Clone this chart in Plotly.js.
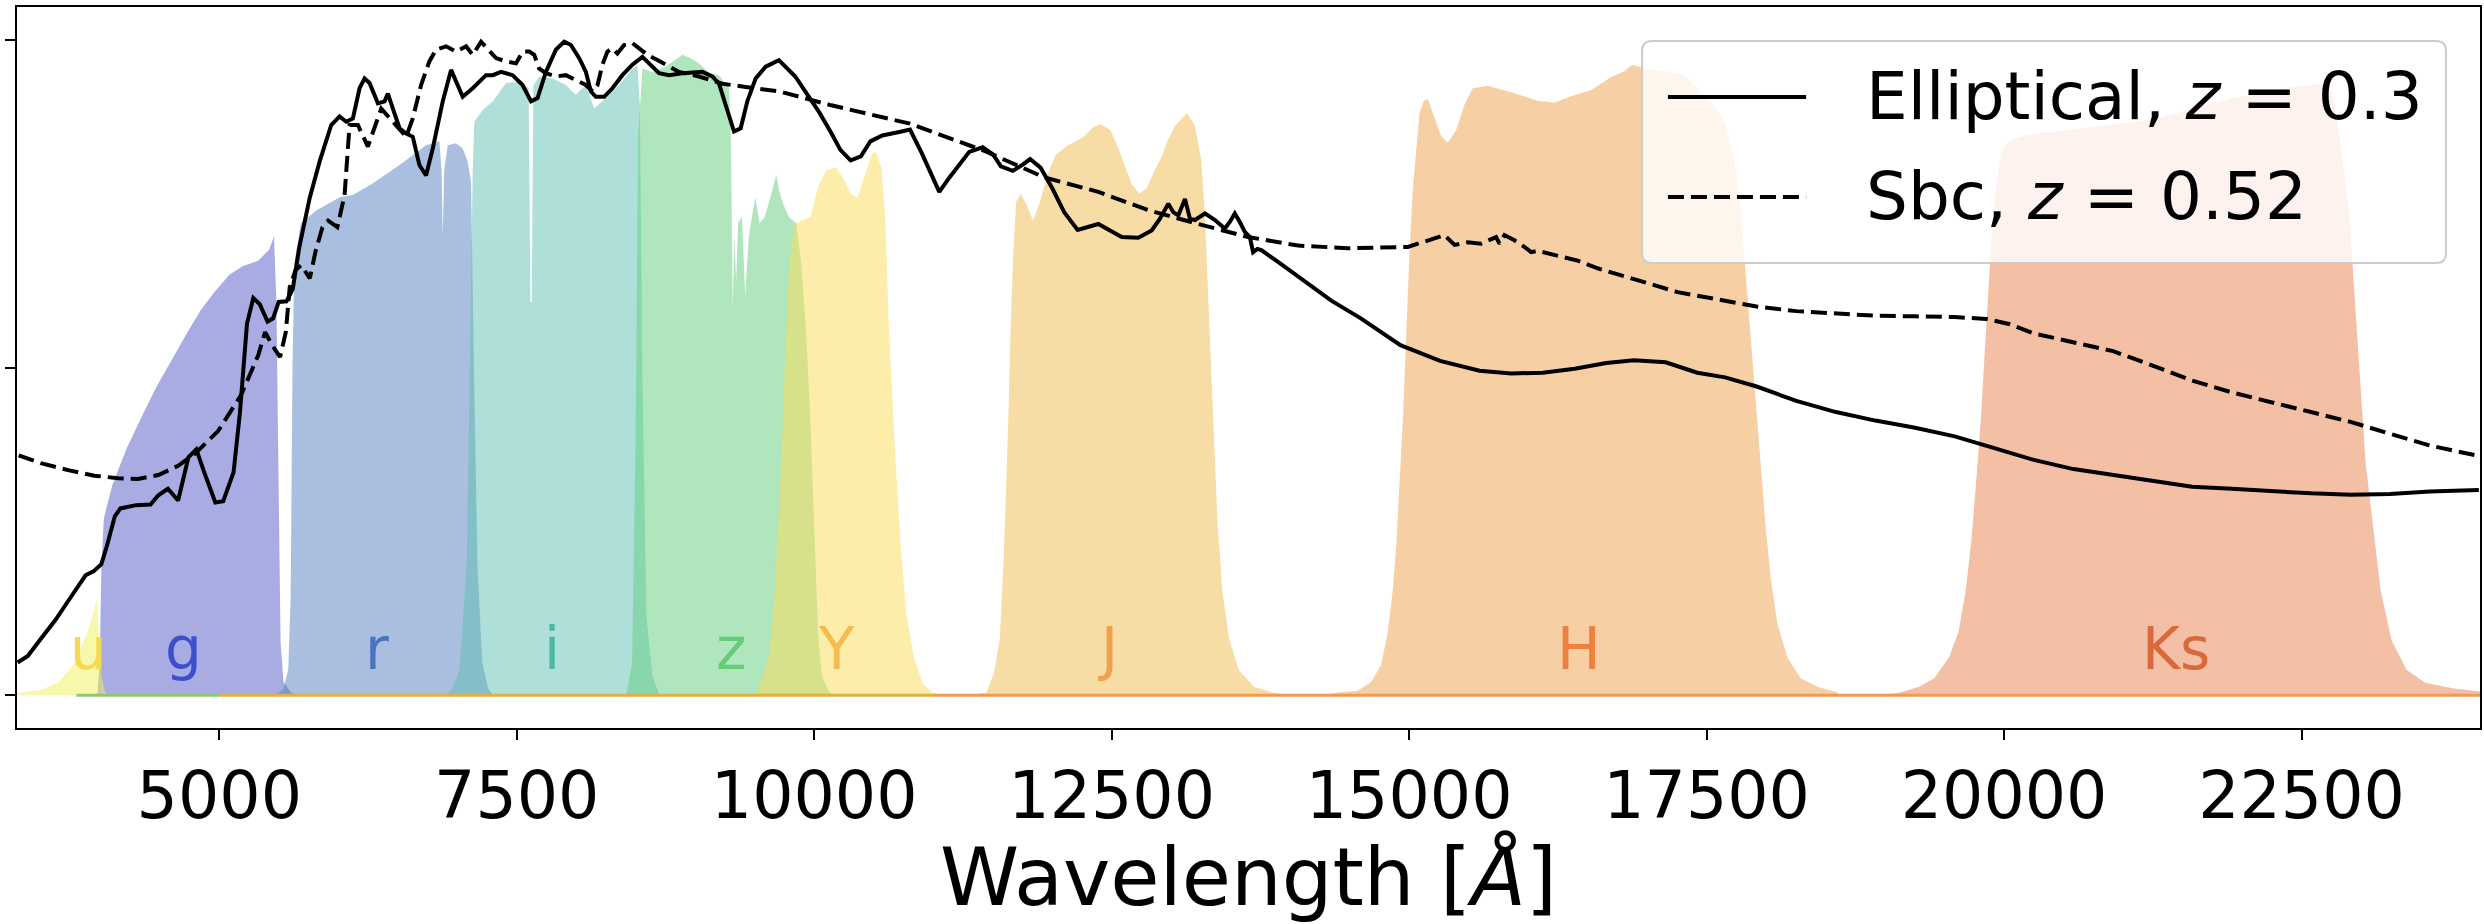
<!DOCTYPE html>
<html>
<head>
<meta charset="utf-8">
<script src="https://cdn.plot.ly/plotly-3.0.1.min.js"></script>
<style>
  html, body { margin: 0; padding: 0; background: #fff; }
  #plot { width: 2484px; height: 924px; }
</style>
</head>
<body>
<div id="plot"></div>
<script>
// Filter transmission curves (wavelength in Angstrom, normalised transmission)
const uWave = [3300, 3500, 3650, 3770, 3890, 3940, 3970, 3990, 4010, 4040, 4080];
const uTrans = [0.003, 0.008, 0.02, 0.045, 0.095, 0.125, 0.147, 0.09, 0.03, 0.005, 0];

const gWave = [3975, 3995, 4010, 4030, 4100, 4220, 4364, 4470, 4605, 4720, 4846, 4960, 5087, 5200, 5328, 5420, 5460, 5480, 5500, 5515, 5540, 5600, 5650];
const gTrans = [0, 0.05, 0.2, 0.27, 0.32, 0.376, 0.431, 0.47, 0.513, 0.55, 0.588, 0.615, 0.642, 0.655, 0.663, 0.68, 0.70, 0.6, 0.3, 0.08, 0.02, 0.005, 0];

const rWave = [5480, 5540, 5580, 5600, 5615, 5632, 5685, 5818, 6017, 6123, 6291, 6515, 6738, 6850, 6868, 6878, 6890, 6920, 6990, 7046, 7088, 7116, 7140, 7170, 7210, 7260, 7300];
const rTrans = [0, 0.01, 0.04, 0.15, 0.5, 0.66, 0.72, 0.74, 0.76, 0.763, 0.781, 0.809, 0.839, 0.845, 0.8, 0.7, 0.8, 0.839, 0.842, 0.834, 0.814, 0.783, 0.5, 0.2, 0.05, 0.01, 0];

const iWave = [6900, 6960, 7020, 7080, 7110, 7130, 7144, 7214, 7298, 7410, 7522, 7600, 7615, 7626, 7640, 7689, 7801, 7913, 7997, 8081, 8151, 8249, 8360, 8472, 8514, 8535, 8555, 8590, 8640, 8700];
const iTrans = [0, 0.01, 0.04, 0.2, 0.55, 0.8, 0.875, 0.893, 0.906, 0.934, 0.936, 0.926, 0.6, 0.6, 0.93, 0.944, 0.941, 0.931, 0.916, 0.931, 0.895, 0.911, 0.931, 0.956, 0.962, 0.9, 0.5, 0.12, 0.03, 0];

const zWave = [8420, 8470, 8500, 8520, 8556, 8640, 8752, 8892, 8962, 9032, 9116, 9200, 9284, 9300, 9315, 9330, 9344, 9360, 9393, 9420, 9450, 9505, 9540, 9585, 9633, 9681, 9705, 9729, 9760, 9793, 9850, 9890, 9932, 9964, 9987, 10009, 10035, 10066, 10131, 10200];
const zTrans = [0, 0.05, 0.4, 0.85, 0.956, 0.951, 0.959, 0.977, 0.972, 0.964, 0.949, 0.946, 0.926, 0.85, 0.59, 0.7, 0.63, 0.72, 0.73, 0.61, 0.7, 0.76, 0.72, 0.73, 0.76, 0.794, 0.77, 0.755, 0.74, 0.728, 0.72, 0.66, 0.554, 0.437, 0.32, 0.203, 0.086, 0.028, 0.004, 0];

const YWave = [9400, 9521, 9618, 9665, 9697, 9729, 9752, 9778, 9803, 9836, 9890, 9970, 10035, 10099, 10179, 10243, 10307, 10362, 10420, 10484, 10516, 10564, 10597, 10629, 10677, 10725, 10773, 10837, 10917, 10998, 11100];
const YTrans = [0, 0.004, 0.057, 0.145, 0.262, 0.379, 0.496, 0.613, 0.683, 0.718, 0.724, 0.73, 0.777, 0.8, 0.806, 0.789, 0.765, 0.759, 0.789, 0.826, 0.829, 0.806, 0.73, 0.554, 0.379, 0.233, 0.127, 0.057, 0.016, 0.004, 0];

const JWave = [11300, 11448, 11511, 11560, 11592, 11614, 11634, 11650, 11672, 11697, 11736, 11785, 11839, 11897, 11961, 12025, 12122, 12250, 12346, 12411, 12491, 12555, 12604, 12668, 12731, 12796, 12861, 12924, 12973, 13037, 13133, 13198, 13252, 13284, 13310, 13336, 13362, 13390, 13432, 13487, 13567, 13696, 13856, 14000];
const JTrans = [0, 0.004, 0.034, 0.086, 0.203, 0.32, 0.437, 0.554, 0.671, 0.753, 0.765, 0.748, 0.724, 0.753, 0.794, 0.823, 0.838, 0.85, 0.867, 0.871, 0.862, 0.835, 0.812, 0.78, 0.765, 0.774, 0.8, 0.823, 0.847, 0.87, 0.888, 0.87, 0.818, 0.73, 0.613, 0.496, 0.379, 0.262, 0.156, 0.086, 0.039, 0.013, 0.004, 0];

const HWave = [14300, 14401, 14569, 14681, 14765, 14821, 14863, 14891, 14919, 14947, 14975, 15003, 15031, 15059, 15087, 15124, 15157, 15213, 15269, 15325, 15395, 15465, 15535, 15661, 15857, 16080, 16220, 16360, 16528, 16695, 16807, 16877, 17003, 17171, 17311, 17423, 17563, 17661, 17731, 17786, 17828, 17870, 17912, 17954, 17996, 18038, 18094, 18178, 18290, 18430, 18600];
const HTrans = [0, 0.004, 0.007, 0.02, 0.046, 0.097, 0.161, 0.226, 0.322, 0.418, 0.547, 0.676, 0.772, 0.837, 0.888, 0.907, 0.91, 0.881, 0.853, 0.843, 0.862, 0.901, 0.926, 0.93, 0.92, 0.907, 0.904, 0.914, 0.923, 0.943, 0.952, 0.962, 0.955, 0.952, 0.946, 0.926, 0.901, 0.869, 0.817, 0.74, 0.644, 0.547, 0.451, 0.354, 0.258, 0.181, 0.11, 0.058, 0.026, 0.013, 0.004];

const KsWave = [18900, 19101, 19288, 19413, 19538, 19617, 19679, 19726, 19764, 19804, 19835, 19866, 19898, 19929, 19976, 20038, 20132, 20351, 20663, 20976, 21288, 21600, 21900, 22200, 22500, 22692, 22760, 22804, 22850, 22898, 22944, 22992, 23039, 23101, 23164, 23257, 23382, 23539, 23789, 24000];
const KsTrans = [0, 0.003, 0.013, 0.026, 0.058, 0.097, 0.161, 0.238, 0.322, 0.418, 0.515, 0.611, 0.708, 0.772, 0.83, 0.846, 0.852, 0.859, 0.865, 0.872, 0.88, 0.895, 0.91, 0.922, 0.93, 0.933, 0.92, 0.869, 0.81, 0.74, 0.612, 0.483, 0.354, 0.258, 0.161, 0.084, 0.039, 0.019, 0.01, 0.006];

// zero-level edges of the filter curves
const baseGreenWave = [3800, 5000];
const baseGoldWave = [5000, 11000];
const baseOrangeWave = [11000, 24000];
const baseZero = [0, 0];

// Template spectra, redshifted and normalised
const ellWave = [3305, 3391, 3491, 3624, 3757, 3876, 3943, 4009, 4056, 4122,
  4169, 4235, 4302, 4422, 4488, 4568, 4654, 4741, 4807, 4874,
  4967, 5033, 5120, 5173, 5233, 5286, 5339, 5406, 5452, 5499,
  5565, 5618, 5672, 5759, 5843, 5941, 6011, 6067, 6123, 6179,
  6221, 6263, 6333, 6389, 6417, 6459, 6515, 6571, 6626, 6682,
  6738, 6794, 6878, 6948, 7046, 7130, 7242, 7298, 7368, 7465,
  7549, 7620, 7675, 7745, 7829, 7899, 7955, 8025, 8081, 8123,
  8165, 8235, 8304, 8388, 8472, 8556, 8612, 8696, 8780, 8892,
  9060, 9144, 9200, 9256, 9326, 9382, 9438, 9508, 9592, 9703,
  9841, 9940, 10040, 10140, 10220, 10306, 10392, 10472, 10572, 10705,
  10805, 10904, 10971, 11051, 11137, 11217, 11303, 11416, 11503, 11569,
  11669, 11749, 11815, 11902, 12002, 12101, 12214, 12388, 12584, 12724,
  12836, 12906, 12976, 13018, 13060, 13116, 13158, 13200, 13284, 13368,
  13451, 13493, 13535, 13577, 13619, 13661, 13689, 13725, 13758, 13898,
  14346, 14594, 14927, 15260, 15592, 15858, 16124, 16391, 16657, 16890,
  17156, 17422, 17655, 17921, 18254, 18587, 18919, 19252, 19585, 19918,
  20250, 20583, 20916, 21248, 21581, 21914, 22247, 22580, 22912, 23244,
  23577, 23990];
const ellFlux = [0.05, 0.06, 0.084, 0.115, 0.151, 0.183, 0.189, 0.2, 0.228, 0.273,
  0.285, 0.287, 0.29, 0.291, 0.305, 0.315, 0.297, 0.363, 0.375, 0.34,
  0.294, 0.296, 0.34, 0.43, 0.567, 0.606, 0.597, 0.57, 0.575, 0.6,
  0.601, 0.62, 0.683, 0.758, 0.814, 0.87, 0.883, 0.875, 0.88, 0.926,
  0.941, 0.934, 0.903, 0.906, 0.918, 0.895, 0.865, 0.857, 0.852, 0.809,
  0.793, 0.834, 0.906, 0.954, 0.913, 0.926, 0.946, 0.946, 0.951, 0.946,
  0.931, 0.906, 0.911, 0.951, 0.985, 0.997, 0.992, 0.972, 0.951, 0.921,
  0.913, 0.913, 0.926, 0.946, 0.962, 0.974, 0.964, 0.949, 0.946, 0.949,
  0.951, 0.944, 0.933, 0.9, 0.86, 0.865, 0.906, 0.941, 0.959, 0.969,
  0.944, 0.917, 0.89, 0.859, 0.832, 0.816, 0.822, 0.845, 0.854, 0.859,
  0.863, 0.827, 0.8, 0.768, 0.79, 0.81, 0.829, 0.836, 0.825, 0.807,
  0.8, 0.809, 0.818, 0.805, 0.773, 0.737, 0.71, 0.719, 0.699, 0.698,
  0.709, 0.727, 0.75, 0.737, 0.732, 0.757, 0.727, 0.725, 0.735, 0.725,
  0.712, 0.722, 0.735, 0.722, 0.707, 0.699, 0.676, 0.681, 0.679, 0.661,
  0.602, 0.575, 0.534, 0.51, 0.495, 0.491, 0.492, 0.498, 0.507, 0.511,
  0.508, 0.492, 0.485, 0.471, 0.449, 0.432, 0.419, 0.408, 0.395, 0.377,
  0.359, 0.345, 0.336, 0.327, 0.318, 0.315, 0.311, 0.308, 0.306, 0.307,
  0.311, 0.313];

const sbcWave = [3314, 3500, 3738, 3950, 4150, 4316, 4488, 4557, 4654, 4798,
  4990, 5183, 5328, 5385, 5448, 5511, 5559, 5592, 5641, 5689,
  5761, 5809, 5867, 5915, 5992, 6053, 6095, 6165, 6249, 6361,
  6459, 6571, 6626, 6696, 6766, 6822, 6906, 6990, 7074, 7130,
  7200, 7270, 7326, 7410, 7494, 7550, 7605, 7647, 7689, 7745,
  7829, 7913, 7997, 8081, 8137, 8179, 8220, 8262, 8304, 8346,
  8402, 8472, 8542, 8598, 8682, 8780, 8864, 9032, 9227, 9424,
  9710, 10144, 10805, 11436, 11935, 12388, 12808, 13227, 13647, 14067,
  14486, 14989, 15185, 15213, 15297, 15381, 15493, 15605, 15731, 15759,
  15801, 15885, 15969, 16025, 16081, 16164, 16416, 16590, 16923, 17256,
  17588, 17921, 18254, 18587, 18919, 19252, 19585, 19851, 20050, 20250,
  20583, 20916, 21248, 21581, 21914, 22247, 22580, 22912, 23244, 23577,
  23990];
const sbcFlux = [0.366, 0.354, 0.343, 0.335, 0.331, 0.33, 0.336, 0.342, 0.35, 0.369,
  0.403, 0.458, 0.519, 0.554, 0.533, 0.516, 0.554, 0.622, 0.649, 0.656,
  0.636, 0.677, 0.714, 0.724, 0.714, 0.763, 0.87, 0.87, 0.837, 0.895,
  0.875, 0.852, 0.88, 0.931, 0.967, 0.985, 0.99, 0.982, 0.99, 0.977,
  0.997, 0.982, 0.972, 0.967, 0.964, 0.982, 0.982, 0.977, 0.956, 0.949,
  0.944, 0.946, 0.939, 0.931, 0.921, 0.931, 0.962, 0.982, 0.987, 0.979,
  0.992, 0.995, 0.985, 0.977, 0.969, 0.959, 0.951, 0.944, 0.933, 0.928,
  0.921, 0.9, 0.872, 0.83, 0.79, 0.768, 0.74, 0.719, 0.699, 0.686,
  0.682, 0.684, 0.694, 0.697, 0.702, 0.687, 0.691, 0.689, 0.699, 0.689,
  0.702, 0.694, 0.684, 0.676, 0.678, 0.674, 0.663, 0.651, 0.633, 0.615,
  0.604, 0.593, 0.586, 0.582, 0.579, 0.578, 0.577, 0.574, 0.566, 0.552,
  0.539, 0.525, 0.503, 0.48, 0.462, 0.447, 0.432, 0.417, 0.399, 0.381,
  0.365];

// band names and where their labels sit along the wavelength axis
const bandNames = ['u', 'g', 'r', 'i', 'z', 'Y', 'J', 'H', 'Ks'];
const bandLabelWave = [3897, 4702, 6322, 7799, 9298, 10190, 12472, 16424, 21441];
const bandLabelColor = ['#f5d94e', '#3f4fcc', '#4a74bf', '#4db6a4', '#66cc77', '#f7bb4d', '#f3a04a', '#ef7f3e', '#d9693a'];

const xTickVals = [5000, 7500, 10000, 12500, 15000, 17500, 20000, 22500];
const xTickText = ['5000', '7500', '10000', '12500', '15000', '17500', '20000', '22500'];
const yTickVals = [0, 0.5, 1];

const legendNames = ['Elliptical, <i>z</i> = 0.3', 'Sbc, <i>z</i> = 0.52'];

const FONT = 'DejaVu Sans, Liberation Sans, sans-serif';

const filter_trace = function (wave, trans, fill) {
    return {
        x: wave, y: trans,
        type: 'scatter', mode: 'lines',
        fill: 'tozeroy', fillcolor: fill,
        line: { width: 0, color: fill },
        hoverinfo: 'skip'
    };
};

const base_trace = function (wave, color) {
    return {
        x: wave, y: baseZero,
        type: 'scatter', mode: 'lines',
        line: { width: 3, color: color },
        hoverinfo: 'skip'
    };
};

// u is painted last, it sits on top of g in the reference
const traces = [
    filter_trace(gWave, gTrans, 'rgba(81,89,197,0.5)'),
    filter_trace(rWave, rTrans, 'rgba(85,127,191,0.5)'),
    filter_trace(iWave, iTrans, 'rgba(93,191,177,0.5)'),
    filter_trace(zWave, zTrans, 'rgba(97,205,125,0.5)'),
    filter_trace(YWave, YTrans, 'rgba(251,219,85,0.5)'),
    filter_trace(JWave, JTrans, 'rgba(239,185,77,0.5)'),
    filter_trace(HWave, HTrans, 'rgba(239,159,75,0.5)'),
    filter_trace(KsWave, KsTrans, 'rgba(231,127,75,0.5)'),
    filter_trace(uWave, uTrans, 'rgba(241,241,89,0.5)'),
    base_trace(baseGreenWave, '#8cc870'),
    base_trace(baseGoldWave, '#e0b040'),
    base_trace(baseOrangeWave, '#f29a50'),
    {
        x: ellWave, y: ellFlux, name: legendNames[0],
        type: 'scatter', mode: 'lines',
        line: { width: 4, color: '#000' }, hoverinfo: 'skip'
    },
    {
        x: sbcWave, y: sbcFlux, name: legendNames[1],
        type: 'scatter', mode: 'lines',
        line: { width: 4, color: '#000', dash: '16px,7px' }, hoverinfo: 'skip'
    }
];

const annotations = bandNames.map((b, k) => ({
    x: bandLabelWave[k], y: 0.015, xref: 'x', yref: 'y',
    xanchor: 'center', yanchor: 'bottom',
    text: b, showarrow: false,
    font: { family: FONT, size: 58, color: bandLabelColor[k] }
}));

// hand-made legend so the line samples can be as long as matplotlib's
const lg = { x0: 0.6598, x1: 0.9862, y0: 0.6449, y1: 0.9528, rx: 0.004, ry: 0.0139 };
const lgRowY = [0.8752, 0.7365];
const box_path = `M${lg.x0 + lg.rx},${lg.y1} L${lg.x1 - lg.rx},${lg.y1} Q${lg.x1},${lg.y1} ${lg.x1},${lg.y1 - lg.ry} ` +
    `L${lg.x1},${lg.y0 + lg.ry} Q${lg.x1},${lg.y0} ${lg.x1 - lg.rx},${lg.y0} L${lg.x0 + lg.rx},${lg.y0} ` +
    `Q${lg.x0},${lg.y0} ${lg.x0},${lg.y0 + lg.ry} L${lg.x0},${lg.y1 - lg.ry} Q${lg.x0},${lg.y1} ${lg.x0 + lg.rx},${lg.y1} Z`;

const shapes = [
    {
        type: 'path', xref: 'paper', yref: 'paper', path: box_path, layer: 'above',
        fillcolor: 'rgba(255,255,255,0.8)', line: { color: '#cccccc', width: 2 }
    },
    {
        type: 'line', xref: 'paper', yref: 'paper', layer: 'above',
        x0: 0.6703, x1: 0.7264, y0: lgRowY[0], y1: lgRowY[0],
        line: { color: '#000', width: 4 }
    },
    {
        type: 'line', xref: 'paper', yref: 'paper', layer: 'above',
        x0: 0.6703, x1: 0.7264, y0: lgRowY[1], y1: lgRowY[1],
        line: { color: '#000', width: 4, dash: '16px,7px' }
    }
];

legendNames.forEach((t, k) => {
    annotations.push({
        x: 0.7499, y: lgRowY[k], xref: 'paper', yref: 'paper',
        xanchor: 'left', yanchor: 'middle', text: t, showarrow: false,
        font: { family: FONT, size: 66, color: '#000' }
    });
});

const layout = {
    width: 2484, height: 924,
    margin: { l: 17, r: 4, t: 7, b: 196 },
    paper_bgcolor: '#fff', plot_bgcolor: '#fff',
    showlegend: false, hovermode: false,
    font: { family: FONT, color: '#000' },
    xaxis: {
        range: [3300, 24000],
        tickmode: 'array', tickvals: xTickVals, ticktext: xTickText,
        ticks: 'outside', ticklen: 10, tickwidth: 2, tickcolor: '#000',
        tickfont: { family: FONT, size: 65, color: '#000' },
        showline: true, mirror: true, linecolor: '#000', linewidth: 2,
        showgrid: false, zeroline: false,
        title: { text: 'Wavelength [<i>Å</i>]', font: { family: FONT, size: 80, color: '#000' }, standoff: 14 }
    },
    yaxis: {
        range: [-0.05, 1.05],
        tickmode: 'array', tickvals: yTickVals,
        showticklabels: false,
        ticks: 'outside', ticklen: 10, tickwidth: 2, tickcolor: '#000',
        showline: true, mirror: true, linecolor: '#000', linewidth: 2,
        showgrid: false, zeroline: false
    },
    shapes: shapes,
    annotations: annotations
};

Plotly.newPlot('plot', traces, layout, { staticPlot: true, displayModeBar: false });
</script>
</body>
</html>
